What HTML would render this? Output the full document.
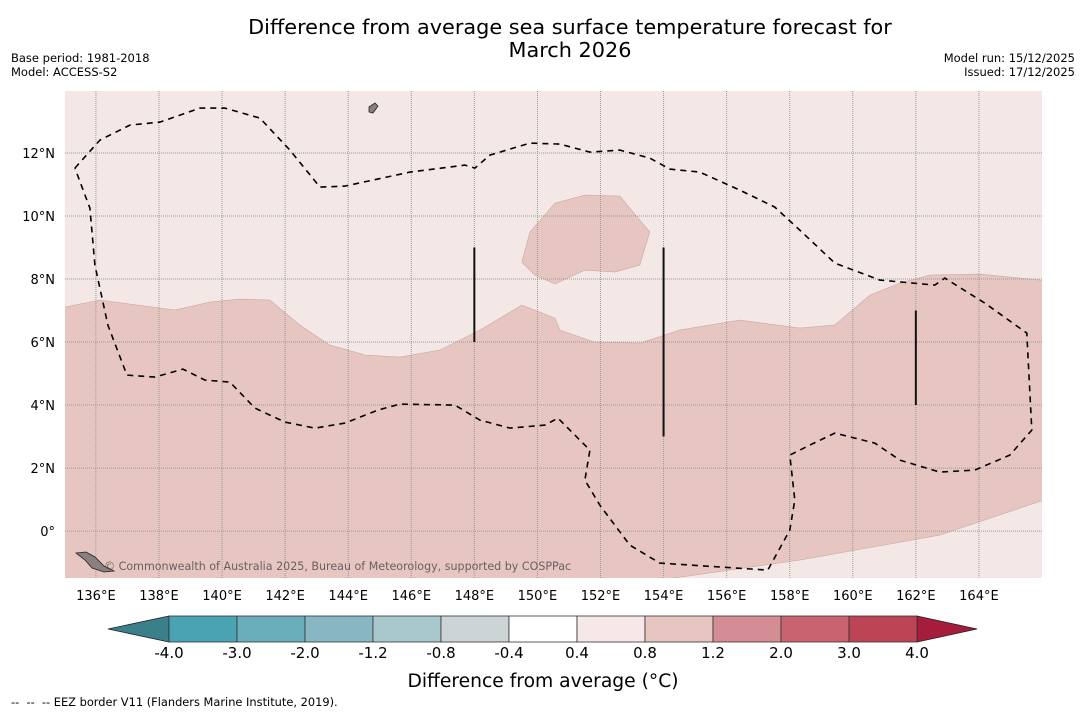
<!DOCTYPE html>
<html><head><meta charset="utf-8"><style>
body{margin:0;background:#fff;width:1085px;height:713px;overflow:hidden;font-family:"DejaVu Sans","Liberation Sans",sans-serif}
</style></head><body>
<svg width="1085" height="713" xmlns="http://www.w3.org/2000/svg" id="svg" font-family="DejaVu Sans, Liberation Sans, sans-serif">
<text x="570" y="34" font-size="20.8" text-anchor="middle">Difference from average sea surface temperature forecast for</text>
<text x="570" y="57" font-size="20.8" text-anchor="middle">March 2026</text>
<text x="11" y="62" font-size="11.5">Base period: 1981-2018</text>
<text x="11" y="76" font-size="11.5">Model: ACCESS-S2</text>
<text x="1075" y="62" font-size="11.5" text-anchor="end">Model run: 15/12/2025</text>
<text x="1075" y="76" font-size="11.5" text-anchor="end">Issued: 17/12/2025</text>
<defs><clipPath id="clip"><rect x="65" y="91" width="977" height="487"/></clipPath></defs>
<g id="map" clip-path="url(#clip)"></g>
<g id="axes"></g>
<g id="cbar"></g>
<text x="543" y="687" font-size="18.7" text-anchor="middle">Difference from average (°C)</text>
<text x="11" y="706" font-size="11.4">-- &#160;-- &#160;-- EEZ border V11 (Flanders Marine Institute, 2019).</text>
</svg>
<script>
const lonTicks=[136,138,140,142,144,146,148,150,152,154,156,158,160,162,164];
const latTicks=[0,2,4,6,8,10,12];
const cbarBounds=["-4.0","-3.0","-2.0","-1.2","-0.8","-0.4","0.4","0.8","1.2","2.0","3.0","4.0"];
const cbarColors=["#4aa3b3","#6aaebb","#88b7c3","#a9c8cd","#ccd4d6","#ffffff","#f5e8e7","#e7c6c2","#d48d95","#c9636f","#bd4455"];
const P=(a)=>a.map(p=>[136+(p[0]-96)/31.54,(531-p[1])/31.5]);
const darkRegion=P([[60,308],[100,300],[175,310],[210,302],[240,299],[270,300],[300,325],[330,345],[365,355],[400,357],[440,350],[480,330],[522,305],[555,318],[560,330],[595,342],[640,343],[680,330],[740,320],[800,328],[835,325],[870,295],[900,283],[930,275],[980,274],[1050,281],[1050,498],[940,535],[800,560],[660,580],[60,580]]);
const darkBlob=P([[522,262],[530,232],[555,203],[585,195],[620,196],[650,232],[640,265],[615,272],[585,270],[555,284],[535,275]]);
const dashContour=P([[75,168],[100,140],[130,125],[160,122],[200,108],[225,108],[260,118],[290,150],[320,187],[345,186],[410,172],[465,165],[475,168],[490,155],[530,143],[560,144],[590,152],[620,150],[650,158],[670,169],[700,172],[740,190],[775,207],[800,230],[835,263],[880,280],[935,285],[945,278],[985,303],[1027,333],[1032,430],[1010,455],[975,470],[940,472],[900,460],[875,443],[835,433],[810,445],[790,455],[795,500],[790,530],[768,570],[660,563],[630,545],[600,505],[585,480],[590,450],[575,435],[558,418],[545,425],[510,428],[480,420],[455,405],[400,404],[378,410],[345,423],[315,428],[285,422],[255,408],[230,382],[205,380],[183,369],[155,377],[127,375],[108,325],[95,265],[90,208],[75,168]]);
const eezLines=[[148,9,6],[154,9,3],[162,7,4]];
const X0=65,X1=1042,Y0=91,Y1=578,LON0=135.02,LON1=166,LAT0=13.97,LAT1=-1.49;
const x=l=>X0+(l-LON0)/(LON1-LON0)*(X1-X0);
const y=l=>Y0+(l-LAT0)/(LAT1-LAT0)*(Y1-Y0);
const NS="http://www.w3.org/2000/svg";
function mk(t,a,parent){const e=document.createElementNS(NS,t);for(const k in a)e.setAttribute(k,a[k]);parent.appendChild(e);return e;}
const map=document.getElementById('map'),axes=document.getElementById('axes'),cb=document.getElementById('cbar');
const pts=a=>a.map(p=>x(p[0]).toFixed(1)+','+y(p[1]).toFixed(1)).join(' ');
let e=mk('rect',{x:X0,y:Y0,width:X1-X0,height:Y1-Y0,fill:'#f4e8e7'},map);


e=mk('polygon',{points:pts(darkRegion),fill:'#e7c6c2',stroke:'#c9a9a5','stroke-width':0.6},map);


e=mk('polygon',{points:pts(darkBlob),fill:'#e7c6c2',stroke:'#c9a9a5','stroke-width':0.6},map);


lonTicks.forEach(l=>{e=mk('line',{x1:x(l),x2:x(l),y1:Y0,y2:Y1,stroke:'#999','stroke-width':1,'stroke-dasharray':'1,1'},map);

});
latTicks.forEach(l=>{e=mk('line',{x1:X0,x2:X1,y1:y(l),y2:y(l),stroke:'#999','stroke-width':1,'stroke-dasharray':'1,1'},map);

});
e=mk('polyline',{points:pts(dashContour),fill:'none',stroke:'#000','stroke-width':1.6,'stroke-dasharray':'6,5'},map);


eezLines.forEach(s=>{e=mk('line',{x1:x(s[0]),x2:x(s[0]),y1:y(s[1]),y2:y(s[2]),stroke:'#111','stroke-width':2},map);

});
e=mk('path',{d:'M76,553 L86,552 L95,557 L104,566 L114,571 L104,572 L92,568 L85,560 Z',fill:'#8a8080',stroke:'#222','stroke-width':0.8},map);


e=mk('path',{d:'M369,107 L375,103 L378,106 L373,113 L369,112 Z',fill:'#8a8080',stroke:'#222','stroke-width':0.8},map);


e=mk('text',{x:104,y:570,'font-size':11.1,fill:'#6a6060'},map);
e.textContent='© Commonwealth of Australia 2025, Bureau of Meteorology, supported by COSPPac';


lonTicks.forEach(l=>{e=mk('text',{x:x(l),y:600,'font-size':13,'text-anchor':'middle'},axes);e.textContent=l+'°E';

});
latTicks.forEach(l=>{e=mk('text',{x:55,y:y(l)+5,'font-size':13,'text-anchor':'end'},axes);e.textContent=l===0?'0°':l+'°N';

});
const CB0=169,CB1=917,CBY=616,CBH=26,n=cbarColors.length,w=(CB1-CB0)/n;
e=mk('polygon',{points:`${CB0},${CBY} ${108},${CBY+CBH/2} ${CB0},${CBY+CBH}`,fill:'#3a7f8a',stroke:'#222','stroke-width':0.8},cb);


e=mk('polygon',{points:`${CB1},${CBY} ${977},${CBY+CBH/2} ${CB1},${CBY+CBH}`,fill:'#a51d3a',stroke:'#222','stroke-width':0.8},cb);


cbarColors.forEach((c,i)=>{e=mk('rect',{x:CB0+i*w,y:CBY,width:w,height:CBH,fill:c,stroke:'#333','stroke-width':0.8},cb);

});
cbarBounds.forEach((b,i)=>{e=mk('text',{x:CB0+i*w,y:658,'font-size':15,'text-anchor':'middle'},cb);e.textContent=b;

});
</script>
</body></html>
